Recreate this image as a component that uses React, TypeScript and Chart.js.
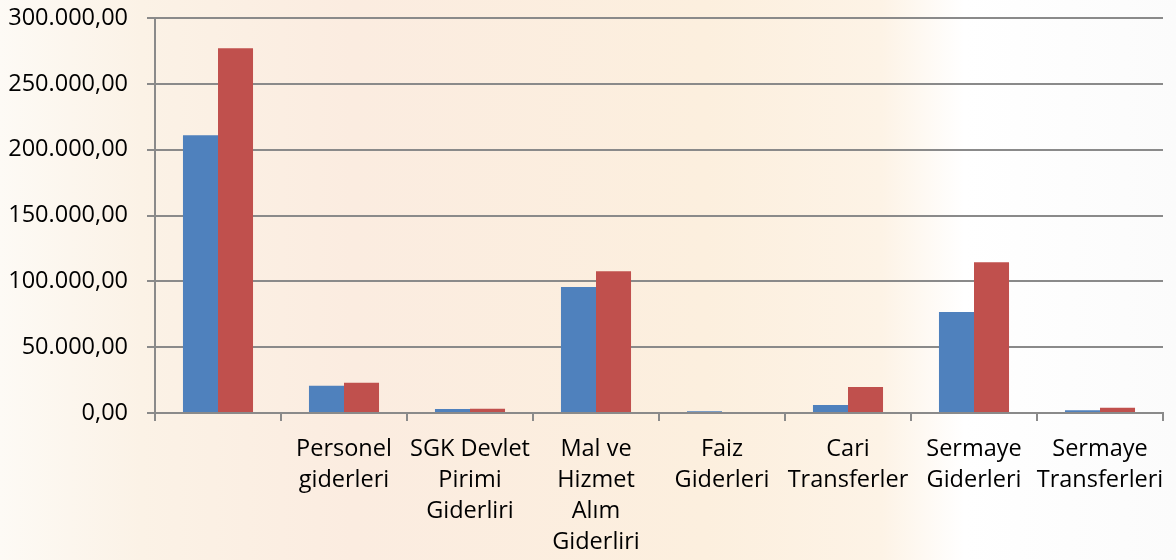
import React, { useEffect, useRef } from "react";
import { Chart, registerables } from "chart.js";

Chart.register(...registerables);

const categories: (string | string[])[] = [
  "",
  ["Personel", "giderleri"],
  ["SGK Devlet", "Pirimi", "Giderliri"],
  ["Mal ve", "Hizmet", "Alım", "Giderliri"],
  ["Faiz", "Giderleri"],
  ["Cari", "Transferler"],
  ["Sermaye", "Giderleri"],
  ["Sermaye", "Transferleri"],
];

const seriesBlue = [211000, 20700, 3000, 95700, 1300, 6100, 76700, 2000];
const seriesRed = [277000, 23000, 3200, 107600, 0, 19700, 114400, 4000];

const yMax = 300000;
const yStep = 50000;

function formatTr(v: number): string {
  const s = Math.round(v).toString().replace(/\B(?=(\d{3})+(?!\d))/g, ".");
  return s + ",00";
}

const backgroundPlugin = {
  id: "bgTint",
  beforeDraw(chart: any) {
    const { ctx, width, height } = chart;
    ctx.save();
    const g = ctx.createLinearGradient(0, 0, width, 0);
    g.addColorStop(0, "#fdfaf5");
    g.addColorStop(0.12, "#fbf2e6");
    g.addColorStop(0.3, "#fbece0");
    g.addColorStop(0.6, "#fcefde");
    g.addColorStop(0.75, "#fdf3e6");
    g.addColorStop(0.82, "#ffffff");
    g.addColorStop(1, "#fbfbfb");
    ctx.fillStyle = g;
    ctx.fillRect(0, 0, width, height);
    ctx.restore();
  },
};

export default function App() {
  const ref = useRef<HTMLCanvasElement | null>(null);

  useEffect(() => {
    document.body.style.margin = "0";
    if (!ref.current) return;
    const font = { family: "'Open Sans', 'Noto Sans', sans-serif", size: 23.5 };
    const chart = new Chart(ref.current, {
      type: "bar",
      data: {
        labels: categories,
        datasets: [
          {
            label: "Seri 1",
            data: seriesBlue,
            backgroundColor: "#4f81bd",
            categoryPercentage: 0.556,
            barPercentage: 1,
          },
          {
            label: "Seri 2",
            data: seriesRed,
            backgroundColor: "#c0504d",
            categoryPercentage: 0.556,
            barPercentage: 1,
          },
        ],
      },
      plugins: [backgroundPlugin],
      options: {
        animation: false,
        responsive: false,
        maintainAspectRatio: false,
        layout: { padding: { top: 18, right: 13, bottom: 0, left: 0 } },
        plugins: {
          legend: { display: false },
          tooltip: { enabled: false },
        },
        scales: {
          x: {
            grid: {
              display: true,
              drawOnChartArea: false,
              drawTicks: true,
              tickLength: 8,
              color: "#8a8a8a",
              lineWidth: 2,
              offset: true,
            },
            border: { display: true, color: "#8a8a8a", width: 2 },
            ticks: {
              color: "#000000",
              font: { ...font, lineHeight: 1.32 },
              padding: 13,
              maxRotation: 0,
              autoSkip: false,
            },
            afterFit: (scale: any) => {
              scale.height = 147;
              scale.paddingLeft = 0;
              scale.paddingRight = 0;
            },
          },
          y: {
            min: 0,
            max: yMax,
            grid: {
              color: "#8a8a8a",
              lineWidth: 2,
              tickLength: 8,
              drawTicks: true,
            },
            border: { display: true, color: "#8a8a8a", width: 2 },
            ticks: {
              stepSize: yStep,
              color: "#000000",
              font,
              padding: 19,
              callback: (v: any) => formatTr(Number(v)),
            },
            afterFit: (scale: any) => {
              scale.width = 155;
              scale.paddingTop = 0;
              scale.paddingBottom = 0;
            },
          },
        },
      },
    });
    return () => chart.destroy();
  }, []);

  return (
    <div style={{ width: 1176, height: 560 }}>
      <canvas ref={ref} width={1176} height={560} style={{ display: "block" }} />
    </div>
  );
}
